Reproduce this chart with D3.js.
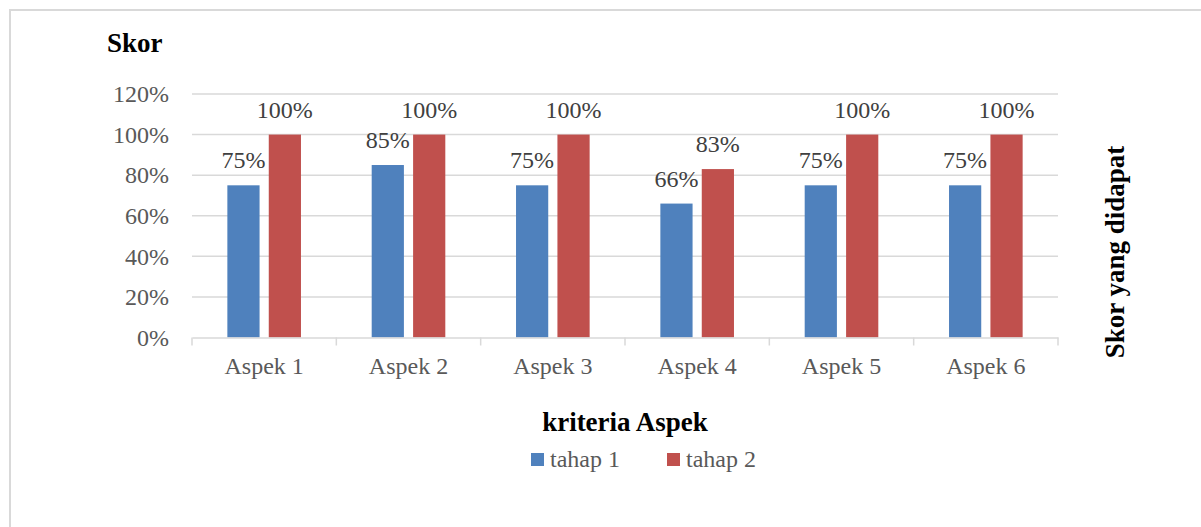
<!DOCTYPE html>
<html>
<head>
<meta charset="utf-8">
<script src="https://cdn.jsdelivr.net/npm/d3@7"></script>
<style>
  html, body { margin: 0; padding: 0; background: #fff; }
  svg { display: block; }
</style>
</head>
<body>
<svg id="chart" width="1201" height="527"></svg>
<script>
// Skor per aspek untuk dua tahap penilaian
const categories = ["Aspek 1", "Aspek 2", "Aspek 3", "Aspek 4", "Aspek 5", "Aspek 6"];
const seriesNames = ["tahap 1", "tahap 2"];
const tahap1 = [75, 85, 75, 66, 75, 75];
const tahap2 = [100, 100, 100, 83, 100, 100];
const yTicks = [0, 20, 40, 60, 80, 100, 120];
const colors = ["#4F81BD", "#C0504D"];

const values = [tahap1, tahap2];
const rows = categories.map((c, i) => ({
  cat: c,
  vals: seriesNames.map((s, j) => ({ series: s, idx: j, v: values[j][i] }))
}));

const svg = d3.select("#chart");
const serif = "'Liberation Serif', 'Times New Roman', serif";
const fs = 24;

// outer frame
svg.append("rect")
  .attr("x", 10).attr("y", 10)
  .attr("width", 1300).attr("height", 600)
  .attr("fill", "none")
  .attr("stroke", "#d9d9d9")
  .attr("stroke-width", 2);

const plot = { left: 192, right: 1058, top: 94, bottom: 337.5 };

const x0 = d3.scaleBand()
  .domain(categories)
  .range([plot.left, plot.right])
  .paddingInner(0).paddingOuter(0);

const x1 = d3.scaleBand()
  .domain(seriesNames)
  .range([0, x0.bandwidth()])
  .paddingInner(0.222)
  .paddingOuter(0.854);

const y = d3.scaleLinear()
  .domain([0, 120])
  .range([plot.bottom, plot.top]);

// gridlines
svg.append("g")
  .selectAll("line")
  .data(yTicks.filter(t => t > 0))
  .join("line")
  .attr("x1", plot.left).attr("x2", plot.right)
  .attr("y1", d => y(d)).attr("y2", d => y(d))
  .attr("stroke", "#d9d9d9")
  .attr("stroke-width", 1.5);

// y axis labels
const yAxis = d3.axisLeft(y)
  .tickValues(yTicks)
  .tickFormat(d => d + "%")
  .tickSize(0)
  .tickPadding(23);
const yg = svg.append("g")
  .attr("transform", `translate(${plot.left},0)`)
  .call(yAxis);
yg.select(".domain").remove();
yg.selectAll("text")
  .attr("font-family", serif)
  .attr("font-size", fs)
  .attr("fill", "#595959");

// bars
const groups = svg.append("g")
  .selectAll("g")
  .data(rows)
  .join("g")
  .attr("transform", d => `translate(${x0(d.cat)},0)`);

groups.selectAll("rect")
  .data(d => d.vals)
  .join("rect")
  .attr("x", d => x1(d.series))
  .attr("width", x1.bandwidth())
  .attr("y", d => y(d.v))
  .attr("height", d => y(0) - y(d.v))
  .attr("fill", d => colors[d.idx]);

// value labels
groups.selectAll("text")
  .data(d => d.vals)
  .join("text")
  .attr("x", d => x1(d.series) + x1.bandwidth() / 2)
  .attr("y", d => y(d.v) - 17)
  .attr("text-anchor", "middle")
  .attr("font-family", serif)
  .attr("font-size", fs)
  .attr("fill", "#404040")
  .text(d => d.v + "%");

// category axis
const xAxis = d3.axisBottom(x0).tickSize(0).tickPadding(20);
const xg = svg.append("g")
  .attr("transform", `translate(0,${plot.bottom})`)
  .call(xAxis);
xg.select(".domain").attr("stroke", "#d9d9d9").attr("stroke-width", 1.5);
xg.selectAll("text")
  .attr("font-family", serif)
  .attr("font-size", fs)
  .attr("fill", "#595959")
  .attr("dy", "0.68em");

// tick marks at category boundaries
const bounds = categories.map(c => x0(c)).concat([x0.range()[1]]);
xg.selectAll("line.bound")
  .data(bounds)
  .join("line")
  .attr("class", "bound")
  .attr("x1", d => d).attr("x2", d => d)
  .attr("y1", 0).attr("y2", 8)
  .attr("stroke", "#d9d9d9")
  .attr("stroke-width", 1.5);

// titles
svg.append("text")
  .attr("x", 107).attr("y", 52)
  .attr("font-family", serif)
  .attr("font-weight", "bold")
  .attr("font-size", 27)
  .attr("fill", "#000")
  .text("Skor");

svg.append("text")
  .attr("x", (plot.left + plot.right) / 2).attr("y", 431)
  .attr("text-anchor", "middle")
  .attr("font-family", serif)
  .attr("font-weight", "bold")
  .attr("font-size", 27)
  .attr("fill", "#000")
  .text("kriteria Aspek");

svg.append("text")
  .attr("transform", "translate(1124,252) rotate(-90)")
  .attr("text-anchor", "middle")
  .attr("font-family", serif)
  .attr("font-weight", "bold")
  .attr("font-size", 27)
  .attr("fill", "#000")
  .text("Skor yang didapat");

// legend
const legendX = [531, 667];
const legend = svg.append("g")
  .selectAll("g")
  .data(seriesNames)
  .join("g")
  .attr("transform", (d, i) => `translate(${legendX[i]},453)`);
legend.append("rect")
  .attr("width", 13).attr("height", 13)
  .attr("fill", (d, i) => colors[i]);
legend.append("text")
  .attr("x", 19).attr("y", 14)
  .attr("font-family", serif)
  .attr("font-size", fs)
  .attr("fill", "#595959")
  .text(d => d);
</script>
</body>
</html>
